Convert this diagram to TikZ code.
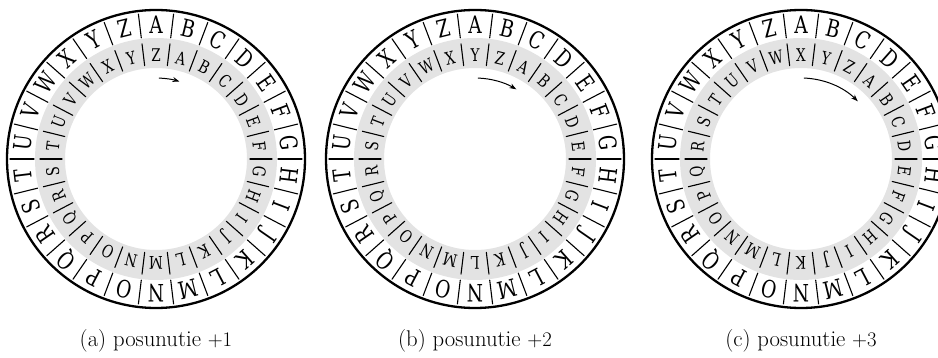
\documentclass[tikz,border=0pt]{standalone}
\usepackage{fontspec}
\newfontfamily\wheelfont[FakeStretch=0.86]{DejaVu Serif Condensed}
\usetikzlibrary{arrows.meta}

\definecolor{ringgray}{gray}{0.89}

\tikzset{
  outletter/.style={inner sep=0pt, font=\wheelfont\fontsize{24}{24}\selectfont},
  inletter/.style={inner sep=0pt, font=\wheelfont\fontsize{17.5}{17.5}\selectfont},
  divider/.style={line width=1.1pt, line cap=round},
  rim/.style={line width=2.3pt},
  turnarrow/.style={line width=1pt, -{Stealth[length=7pt,width=5pt]}},
  caption/.style={anchor=base, inner sep=0pt, font=\fontsize{22.7}{27}\selectfont}
}

% #1 name prefix, #2 x of the centre, #3 shift, #4 caption text
\newcommand\cipherwheel[4]{%
  \begin{scope}[shift={(#2,-159)}]
    \fill[ringgray, even odd rule] (0,0) circle (121) (0,0) circle (91);
    \draw[rim] (0,0) circle (149);
    \foreach \L [count=\k from 0] in {A,...,Z} {
      \pgfmathsetmacro\ao{90-\k*13.846154}
      \pgfmathsetmacro\ai{90-(\k+#3)*13.846154}
      \node[outletter, rotate=\ao-90] (#1o\L) at (\ao:134) {\L};
      \node[inletter, rotate=\ai-90] (#1i\L) at (\ai:104) {\L};
      \draw[divider] (\ao-6.923077:122) -- (\ao-6.923077:146);
      \draw[divider] (\ai-6.923077:94) -- (\ai-6.923077:116);
    }
    \draw[turnarrow] (88:81) arc[start angle=88, end angle={87-13.846154*#3}, radius=81];
    \node[caption] (#1cap) at (0,-187) {#4};
  \end{scope}}

\begin{document}
\begin{tikzpicture}[x=1pt,y=1pt]
  \useasboundingbox (0,-358) rectangle (938,0);
  \clip (0,-358) rectangle (938,0);
  \cipherwheel{a}{156}{1}{(a) posunutie $+1$}
  \cipherwheel{b}{475}{2}{(b) posunutie $+2$}
  \cipherwheel{c}{801}{3}{(c) posunutie $+3$}
\end{tikzpicture}
\end{document}
